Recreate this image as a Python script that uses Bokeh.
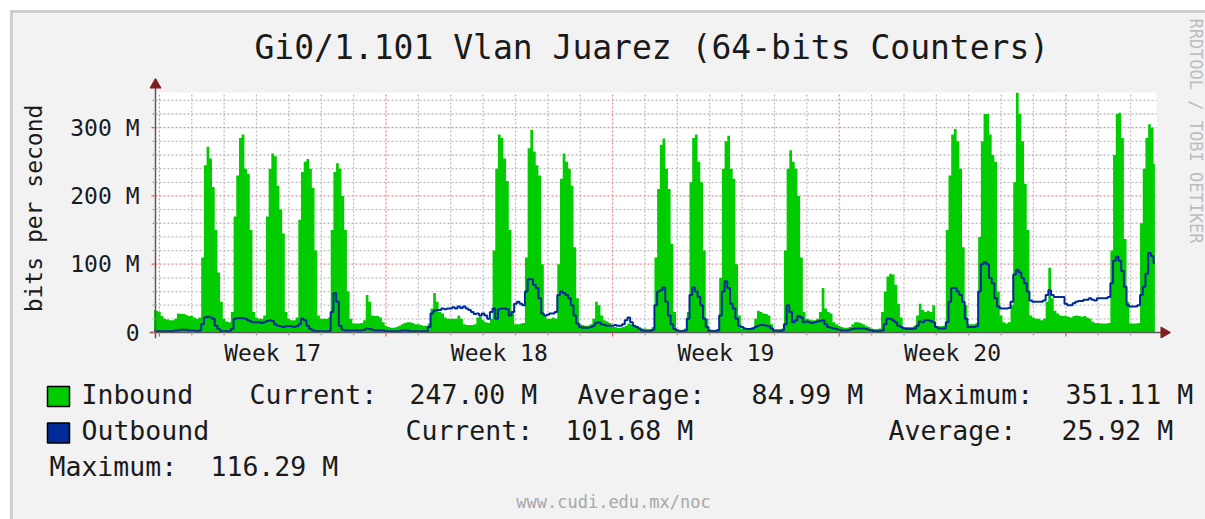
import numpy as np
from bokeh.plotting import figure
from bokeh.layouts import column, row
from bokeh.models import Range1d, FixedTicker
from bokeh.core.properties import value
from bokeh.embed import file_html
from bokeh.resources import INLINE

# ---------------- data (2-hour samples, M bits/s) ----------------
sample_start_day = -4 / 24      # first sample: 4 h before week 17 begins
sample_step_day = 2 / 24

in_pre = [33, 32]
out_pre = [2, 2]

in_w17 = [30, 24, 20, 19, 18, 18, 20, 28, 27, 27, 26, 24,
          24, 22, 20, 22, 110, 245, 272, 255, 213, 150, 88, 45,
          20, 16, 15, 30, 170, 230, 285, 290, 240, 232, 150, 30,
          22, 20, 20, 25, 170, 240, 262, 258, 215, 180, 145, 30,
          20, 18, 18, 22, 165, 235, 250, 254, 240, 212, 120, 25,
          20, 20, 20, 22, 150, 235, 248, 240, 200, 150, 60, 20,
          13, 13, 13, 14, 18, 55, 45, 25, 24, 24, 22, 15]
out_w17 = [2, 2, 2, 2, 2, 2, 3, 3, 4, 4, 4, 3,
           3, 3, 2, 3, 12, 22, 23, 22, 20, 10, 5, 2,
           2, 2, 2, 5, 20, 21, 21, 21, 20, 18, 16, 15,
           15, 15, 14, 15, 17, 18, 17, 12, 10, 9, 8, 9,
           9, 9, 8, 9, 12, 20, 18, 10, 5, 3, 2, 2,
           2, 2, 2, 2, 30, 58, 45, 10, 4, 3, 3, 3,
           3, 3, 3, 3, 4, 6, 5, 4, 3, 3, 3, 3]

in_w18 = [10, 8, 7, 7, 8, 10, 12, 14, 15, 15, 14, 12,
          12, 11, 10, 10, 13, 35, 58, 45, 30, 28, 22, 20,
          20, 20, 20, 25, 20, 12, 11, 11, 11, 12, 22, 23,
          18, 15, 14, 20, 120, 240, 290, 285, 255, 222, 150, 30,
          12, 12, 13, 14, 110, 270, 297, 265, 245, 230, 100, 25,
          20, 20, 22, 20, 100, 225, 262, 250, 240, 215, 125, 50,
          12, 11, 10, 10, 12, 20, 45, 40, 25, 18, 16, 14]
out_w18 = [2, 2, 2, 2, 2, 2, 3, 3, 3, 2, 2, 2,
           2, 2, 2, 2, 8, 28, 32, 33, 33, 35, 34, 35,
           35, 37, 35, 38, 36, 38, 35, 33, 30, 27, 28, 25,
           28, 25, 20, 30, 35, 20, 34, 35, 35, 34, 25, 30,
           42, 45, 42, 40, 60, 78, 78, 70, 65, 50, 28, 25,
           26, 28, 28, 30, 55, 60, 58, 55, 50, 40, 25, 13,
           8, 7, 7, 7, 8, 10, 14, 15, 12, 11, 10, 10]

in_w19 = [8, 8, 7, 7, 8, 10, 13, 12, 10, 9, 8, 6,
          6, 5, 5, 8, 110, 210, 275, 284, 240, 210, 130, 30,
          5, 4, 4, 6, 30, 220, 285, 290, 250, 220, 120, 20,
          5, 4, 4, 5, 80, 240, 280, 288, 240, 225, 100, 25,
          6, 6, 6, 6, 8, 20, 32, 30, 28, 27, 25, 12,
          5, 5, 5, 6, 120, 240, 267, 250, 240, 200, 110, 30,
          20, 19, 18, 18, 20, 30, 65, 35, 30, 28, 15, 12]
out_w19 = [10, 11, 10, 10, 12, 18, 22, 15, 10, 8, 5, 3,
           2, 2, 2, 4, 40, 60, 62, 66, 45, 25, 12, 5,
           3, 2, 2, 3, 20, 55, 66, 60, 52, 40, 20, 8,
           2, 2, 2, 3, 25, 60, 75, 65, 42, 35, 20, 10,
           8, 6, 5, 5, 6, 8, 10, 11, 11, 10, 9, 6,
           2, 2, 2, 3, 12, 40, 30, 15, 18, 24, 22, 15,
           16, 15, 14, 15, 16, 17, 18, 12, 8, 7, 6, 5]

in_w20 = [10, 8, 7, 7, 8, 12, 15, 15, 14, 12, 10, 8,
          6, 5, 5, 6, 30, 60, 82, 86, 85, 70, 42, 22,
          8, 8, 8, 8, 10, 25, 42, 33, 30, 32, 30, 40,
          10, 9, 9, 10, 150, 230, 290, 298, 280, 240, 125, 40,
          12, 12, 12, 14, 140, 280, 320, 320, 290, 260, 250, 60,
          25, 15, 13, 15, 40, 220, 351.11, 320, 280, 218, 150, 25,
          22, 20, 20, 18, 20, 45, 95, 50, 32, 28, 25, 24]
out_w20 = [4, 3, 3, 3, 4, 5, 6, 6, 6, 6, 5, 4,
           3, 2, 2, 2, 3, 12, 20, 20, 18, 15, 10, 8,
           6, 5, 5, 5, 6, 10, 16, 15, 18, 18, 17, 15,
           8, 6, 6, 6, 15, 45, 65, 65, 60, 55, 45, 20,
           8, 8, 8, 9, 60, 100, 103, 100, 80, 72, 50, 38,
           35, 35, 35, 36, 45, 85, 92, 88, 80, 72, 60, 47,
           45, 45, 45, 45, 47, 55, 62, 55, 52, 52, 52, 52]

in_w21 = [24, 23, 22, 24, 25, 24, 23, 24, 22, 20, 16, 14,
          14, 13, 13, 13, 14, 120, 260, 320, 322, 285, 137, 45,
          13, 13, 13, 14, 160, 240, 285, 305, 300, 247.00]
out_w21 = [42, 40, 40, 43, 45, 46, 46, 48, 48, 50, 48, 47,
           50, 50, 50, 50, 52, 72, 105, 111, 105, 90, 67, 40,
           38, 38, 38, 40, 55, 67, 86, 116.29, 112, 101.68]

week_labels = ["Week 17", "Week 18", "Week 19", "Week 20"]
week_starts = [0, 7, 14, 21, 28]

in_current, in_average, in_maximum = 247.00, 84.99, 351.11
out_current, out_average, out_maximum = 101.68, 25.92, 116.29

title_text = "Gi0/1.101 Vlan Juarez (64-bits Counters)"
y_label = "bits per second"
footer_text = "www.cudi.edu.mx/noc"
side_text = "RRDTOOL / TOBI OETIKER"

inbound = np.array(in_pre + in_w17 + in_w18 + in_w19 + in_w20 + in_w21, dtype=float)
outbound = np.array(out_pre + out_w17 + out_w18 + out_w19 + out_w20 + out_w21, dtype=float)
t = sample_start_day + sample_step_day * np.arange(len(inbound))

# ---------------- geometry (page pixels) ----------------
MARGIN = 10                           # white margin, then a 3px border
OX, OY = 13, 13                       # canvas origin inside the border
CANVAS_L, CANVAS_R, CANVAS_T, CANVAS_B = 155, 1156, 92, 332   # white plotting canvas
FRAME_L, FRAME_R, FRAME_T, FRAME_B = 149, 1170, 78, 338       # room for axis arrows
RIGHT_EDGE, PAGE_BOTTOM = 1205, 519

X0, X1 = -0.12, 30.80                 # days spanned by the white canvas
Y0, Y1 = 0.0, 351.5                   # M bits/s spanned by the white canvas
PPD = (CANVAS_R - CANVAS_L) / (X1 - X0)
PPM = (CANVAS_B - CANVAS_T) / (Y1 - Y0)
XL = X0 - (CANVAS_L - FRAME_L) / PPD
XR = X1 + (FRAME_R - CANVAS_R) / PPD
YB = Y0 - (FRAME_B - CANVAS_B) / PPM
YT = Y1 + (CANVAS_T - FRAME_T) / PPM

W_MAIN, H_MAIN = 1175, 370
MB_MAIN = (OY + H_MAIN) - FRAME_B
W_SIDE = RIGHT_EDGE - (MARGIN + W_MAIN)
LEG_TOP = MARGIN + H_MAIN
W_LEG, H_LEG = RIGHT_EDGE - OX, PAGE_BOTTOM - LEG_TOP

MONO = "DejaVu Sans Mono"
GREEN = "#00cc00"
BLUE = "#002a97"
BG = "#f2f2f2"
ARROW = "#7f1f1f"
AXIS = "#5a5a5a"
TEXT = "#1a1a1a"
BORDER = "3px solid #cfcfcf"

# ---------------- main plot ----------------
p = figure(width=W_MAIN, height=H_MAIN, output_backend="svg", toolbar_location=None,
           x_range=Range1d(XL, XR), y_range=Range1d(YB, YT), title=title_text,
           min_border_left=FRAME_L - OX, min_border_right=(OX + W_MAIN) - FRAME_R,
           min_border_top=FRAME_T - OY, min_border_bottom=MB_MAIN)
p.styles = {"border-top": BORDER, "border-left": BORDER, "background-color": BG}
p.background_fill_color = BG
p.border_fill_color = BG
p.outline_line_color = None
p.grid.visible = False

p.title.align = "left"
p.title.offset = 105
p.title.standoff = 22
p.title.vertical_align = "middle"
p.title.text_font = MONO
p.title.text_font_size = "33px"
p.title.text_font_style = "normal"
p.title.text_color = TEXT

# white canvas
p.quad(left=[X0], right=[X1], bottom=[Y0], top=[Y1], fill_color="white", line_color=None)

# grid (dotted; grey = minor, red = major)
y_major = [100, 200, 300]
y_minor = [v for v in range(20, 351, 20) if v % 100 != 0]
x_minor = [d for d in range(0, 31) if d not in week_starts]
GREY_GRID = dict(line_color="#bdbdbd", line_width=1.3, line_dash="2 2")
RED_GRID = dict(line_color="#f08a8a", line_width=1.3, line_dash="2 2")
p.segment(x0=[X0] * len(y_minor), x1=[X1] * len(y_minor), y0=y_minor, y1=y_minor, **GREY_GRID)
p.segment(x0=x_minor, x1=x_minor, y0=[Y0] * len(x_minor), y1=[Y1] * len(x_minor), **GREY_GRID)
p.segment(x0=[X0] * len(y_major), x1=[X1] * len(y_major), y0=y_major, y1=y_major, **RED_GRID)
p.segment(x0=week_starts, x1=week_starts, y0=[Y0] * len(week_starts),
          y1=[Y1] * len(week_starts), **RED_GRID)

# data (rrdtool draws consolidated steps)
if hasattr(p, "varea_step"):
    p.varea_step(x=t, y1=np.zeros_like(inbound), y2=inbound, step_mode="center", fill_color=GREEN)
else:
    p.varea(x=t, y1=0, y2=inbound, fill_color=GREEN)
p.step(x=t, y=outbound, mode="center", line_color=BLUE, line_width=2)

# axis lines, tick marks and arrowheads
p.segment(x0=[X0, XL], x1=[X0, XR], y0=[YB, 0], y1=[YT, 0], line_color=AXIS, line_width=1.5)
p.segment(x0=[X0 - 3 / PPD] * len(y_minor), x1=[X0] * len(y_minor), y0=y_minor, y1=y_minor,
          line_color="#a8a8a8", line_width=1.3)
p.segment(x0=[X0 - 4 / PPD] * 4, x1=[X0] * 4, y0=[0] + y_major, y1=[0] + y_major,
          line_color="#e06060", line_width=1.3)
p.segment(x0=x_minor, x1=x_minor, y0=[0] * len(x_minor), y1=[-3 / PPM] * len(x_minor),
          line_color="#a8a8a8", line_width=1.3)
p.segment(x0=week_starts, x1=week_starts, y0=[0] * 5, y1=[-4 / PPM] * 5,
          line_color="#e06060", line_width=1.3)
p.scatter(x=[X0], y=[YT - 6.35 / PPM], marker="triangle", size=11,
          fill_color=ARROW, line_color=ARROW)
p.scatter(x=[XR - 6.35 / PPD], y=[0], marker="triangle", size=11, angle=-np.pi / 2,
          fill_color=ARROW, line_color=ARROW)

# y axis (labels only; line/ticks drawn above)
ya = p.yaxis[0]
ya.ticker = FixedTicker(ticks=[0] + y_major)
ya.major_label_overrides = {0: "0", 100: "100 M", 200: "200 M", 300: "300 M"}
ya.major_label_text_font = MONO
ya.major_label_text_font_size = "23px"
ya.major_label_text_color = TEXT
ya.major_label_standoff = FRAME_L - 139
ya.major_tick_line_color = None
ya.minor_tick_line_color = None
ya.major_tick_out = 0
ya.major_tick_in = 0
ya.minor_tick_out = 0
ya.minor_tick_in = 0
ya.axis_line_color = None
ya.axis_label = y_label
ya.axis_label_text_font = MONO
ya.axis_label_text_font_size = "23px"
ya.axis_label_text_font_style = "normal"
ya.axis_label_text_color = TEXT
ya.axis_label_standoff = 20

# x axis (week labels centred on each week)
label_pos = [w + 3.5 for w in week_starts[:4]]
xa = p.xaxis[0]
xa.ticker = FixedTicker(ticks=label_pos)
xa.major_label_overrides = {lp: lab for lp, lab in zip(label_pos, week_labels)}
xa.major_label_text_font = MONO
xa.major_label_text_font_size = "23px"
xa.major_label_text_color = TEXT
xa.major_label_standoff = 1
xa.major_tick_line_color = None
xa.minor_tick_line_color = None
xa.major_tick_out = 0
xa.major_tick_in = 0
xa.minor_tick_out = 0
xa.minor_tick_in = 0
xa.axis_line_color = None

# ---------------- right strip with the vertical credit ----------------
SIDE_CENTER_X, SIDE_CENTER_Y = 1195.5, 130.5     # page position of the credit's centre
side_frame_h = FRAME_B - OY
ps = figure(width=W_SIDE, height=H_MAIN, output_backend="svg", toolbar_location=None,
            x_range=Range1d(0, W_SIDE), y_range=Range1d(0, side_frame_h),
            min_border_left=0, min_border_right=0, min_border_top=0,
            min_border_bottom=MB_MAIN,
            x_axis_location=None, y_axis_location=None)
ps.styles = {"border-top": BORDER, "background-color": BG}
ps.background_fill_color = BG
ps.border_fill_color = BG
ps.outline_line_color = None
ps.grid.visible = False
ps.text(x=[SIDE_CENTER_X - (MARGIN + W_MAIN)], y=[FRAME_B - SIDE_CENTER_Y], text=[side_text],
        angle=-np.pi / 2, text_font=value(MONO), text_font_size=value("17px"),
        text_color="#bdbdbd", text_align="center", text_baseline="middle")

# ---------------- legend strip ----------------
pl = figure(width=W_LEG, height=H_LEG, output_backend="svg", toolbar_location=None,
            x_range=Range1d(0, W_LEG), y_range=Range1d(0, H_LEG), min_border=0,
            x_axis_location=None, y_axis_location=None)
pl.styles = {"border-left": BORDER, "background-color": BG}
pl.background_fill_color = BG
pl.border_fill_color = BG
pl.outline_line_color = None
pl.grid.visible = False


def lx(page_x):
    return page_x - OX


def ly(page_y):
    return (LEG_TOP + H_LEG) - page_y


# colour keys
pl.quad(left=[lx(47), lx(47)], right=[lx(69), lx(69)],
        top=[ly(386), ly(422.5)], bottom=[ly(406), ly(442.5)],
        fill_color=[GREEN, BLUE], line_color="black", line_width=1.5)

row1, row2, row3 = 394, 430, 466      # centre lines of the three text rows
items = [
    ("Inbound", 81, row1), ("Current:", 249, row1), (f"{in_current:.2f} M", 409, row1),
    ("Average:", 577, row1), (f"{in_average:.2f} M", 751, row1),
    ("Maximum:", 905, row1), (f"{in_maximum:.2f} M", 1065, row1),
    ("Outbound", 81, row2), ("Current:", 405, row2), (f"{out_current:.2f} M", 565, row2),
    ("Average:", 888, row2), (f"{out_average:.2f} M", 1061, row2),
    ("Maximum:", 49, row3), (f"{out_maximum:.2f} M", 210, row3),
]
pl.text(x=[lx(i[1]) for i in items], y=[ly(i[2]) for i in items], text=[i[0] for i in items],
        text_font=value(MONO), text_font_size=value("26.5px"), text_color=TEXT,
        text_align="left", text_baseline="middle")
pl.text(x=[lx(613)], y=[ly(501)], text=[footer_text], text_font=value(MONO),
        text_font_size=value("17px"), text_color="#a8a8a8",
        text_align="center", text_baseline="middle")

side_col = column(ps)
side_col.styles = {"background-color": BG}
top_row = row(p, side_col)
top_row.styles = {"background-color": BG}
layout = column(top_row, pl)
layout.styles = {"background-color": BG}
layout.margin = (MARGIN, 0, 0, MARGIN)

open("out.html", "w").write(file_html(layout, INLINE))
